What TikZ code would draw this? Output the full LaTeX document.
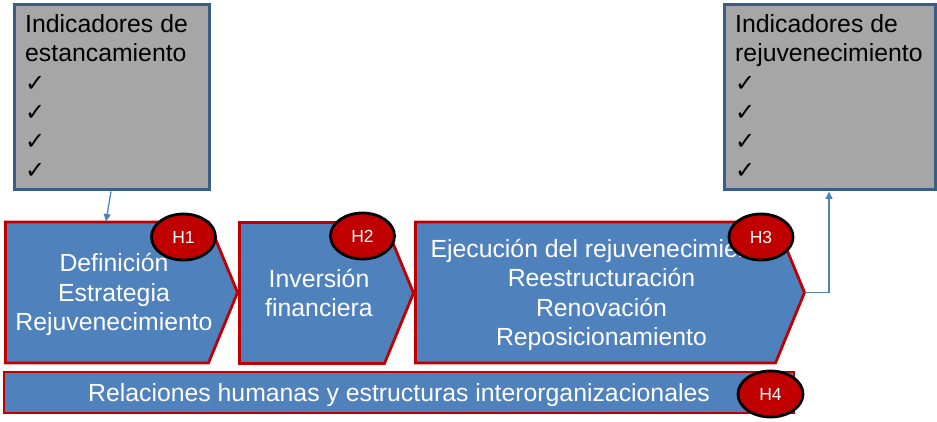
\documentclass[tikz,border=0pt]{standalone}
\usepackage{fontspec}
\setmainfont{Liberation Sans}
\newfontfamily\chk{DejaVu Sans}
\usetikzlibrary{shapes.geometric,shapes.symbols,arrows.meta}
\definecolor{bluefill}{HTML}{4F81BD}
\definecolor{blueline}{HTML}{385D8A}
\definecolor{redline}{HTML}{C00000}
\definecolor{greyfill}{HTML}{A6A6A6}
\tikzset{
  x=1pt,y=-1pt,
  indbox/.style={draw=blueline,line width=3pt,fill=greyfill,rectangle,inner sep=0pt,outer sep=0pt},
  stage/.style={signal,signal to=east,signal from=nowhere,signal pointer angle=135.2,draw=redline,line width=2.8pt,fill=bluefill,inner sep=0pt,outer sep=0pt,minimum height=141pt},
  band/.style={rectangle,draw=redline,line width=2.8pt,fill=bluefill,inner sep=0pt,outer sep=0pt},
  stagetext/.style={text=white,font=\fontsize{24.8pt}{29.5pt}\selectfont,align=center,inner sep=0pt},
  indtext/.style={text=black,font=\fontsize{24.8pt}{29pt}\selectfont,align=left,anchor=north west,inner sep=0pt},
  checks/.style={text=black,font=\chk\fontsize{24pt}{29.2pt}\selectfont,align=left,anchor=north west,inner sep=0pt},
  hito/.style={ellipse,draw=black,line width=2.8pt,fill=redline,text=white,font=\fontsize{17.5pt}{20pt}\selectfont,inner sep=0pt,outer sep=0pt,minimum width=64pt,minimum height=46pt},
  link/.style={draw=bluefill,line width=1.3pt,-{Triangle[length=7.5pt,width=7pt]}}
}
\begin{document}
\begin{tikzpicture}
\useasboundingbox (0,0) rectangle (937,422);
% indicator boxes
\node[indbox,minimum width=195pt,minimum height=185pt] (boxa) at (111.5,97.5) {};
\node[indbox,minimum width=211pt,minimum height=185pt] (boxb) at (829.5,97.5) {};
\node[indtext] (boxatitle) at (25,14) {Indicadores de\\estancamiento};
\node[indtext] (boxbtitle) at (735,14) {Indicadores de\\rejuvenecimiento};
\node[checks] (boxachecks) at (25,76) {✓\\✓\\✓\\✓};
\node[checks] (boxbchecks) at (735,76) {✓\\✓\\✓\\✓};
% stages
\node[stage,minimum width=232pt] (s1) at (107,292.5) {};
\node[stage,minimum width=174pt] (s2) at (312,293) {};
\node[stage,minimum width=389pt] (s3) at (595.5,292.5) {};
\node[band,minimum width=790pt,minimum height=41pt] (s4) at (399,392.5) {};
\node[stagetext] (t1) at (114,294.5) {Definición\\Estrategia\\Rejuvenecimiento};
\node[stagetext] (t2) at (319,293) {Inversión\\financiera};
\node[stagetext] (t3) at (601.5,295) {Ejecución del rejuvenecimiento\\Reestructuración\\Renovación\\Reposicionamiento};
\node[stagetext] (t4) at (399,395) {Relaciones humanas y estructuras interorganizacionales};
% milestones
\node[hito] (h1) at (183.5,237) {H1};
\node[hito] (h2) at (362.5,236) {H2};
\node[hito] (h3) at (761,237) {H3};
\node[hito,minimum width=65pt] (h4) at (770.5,394) {H4};
% connectors
\coordinate (fromboxa) at (111,191.5);
\coordinate (tos1) at (106,221.5);
\coordinate (toboxb) at (829,191.5);
\draw[link] (fromboxa) -- (tos1);
\draw[link] (s3.east) -| (toboxb);
\end{tikzpicture}
\end{document}
